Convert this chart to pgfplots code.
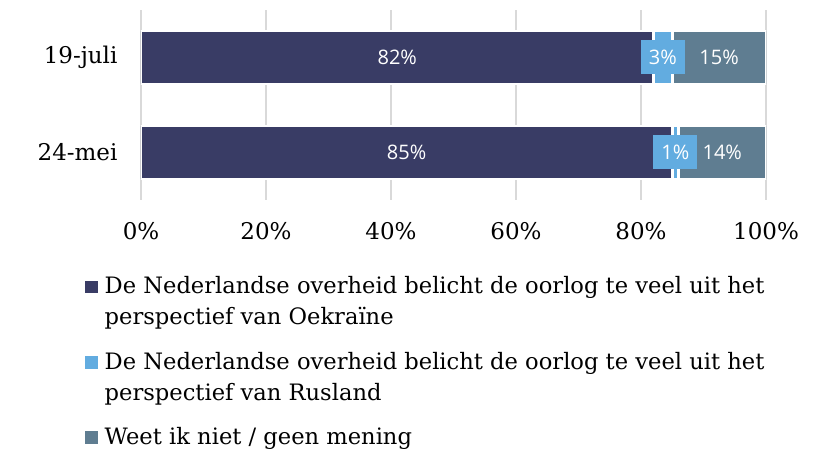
\documentclass[border=0pt]{standalone}
\usepackage{pgfplots}
\pgfplotsset{compat=1.18}
\usepackage{fontspec}
\setmainfont{DejaVu Serif}
\newfontfamily\barfont{Open Sans}

\definecolor{navy}{HTML}{393C65}
\definecolor{lightblue}{HTML}{62ACE0}
\definecolor{slate}{HTML}{5F7D91}
\definecolor{gridgray}{HTML}{D9D9D9}

\pgfplotsset{
  frame/.style={
    scale only axis, width=625pt, height=190pt,
    at={(0,0)}, anchor=south west,
    xmin=0, xmax=100, ymin=-0.5, ymax=1.5,
  },
  barlabel/.style={
    only marks, mark=none,
    point meta=explicit,
    nodes near coords={\pgfmathprintnumber[assume math mode=true]{\pgfplotspointmeta}\%},
    nodes near coords align=center,
    every node near coord/.append style={anchor=center, text=white,
      font=\barfont\fontsize{20}{22}\selectfont},
  },
  sq/.style={legend image code/.code={%
    \fill[#1] (0pt,-20.1pt) rectangle (10pt,-10.1pt);}},
}

\begin{document}
\begin{tikzpicture}
\path[use as bounding box] (-141pt,-249pt) rectangle (684pt,200pt);
\begin{axis}[
  frame,
  xbar stacked,
  bar width=0.553,
  axis line style={draw=none},
  major tick length=0pt,
  xtick={0,20,...,100},
  xticklabel={\pgfmathprintnumber[assume math mode=true]{\tick}\%},
  ytick={0,1}, yticklabels={24-mei,19-juli},
  tick label style={font=\fontsize{23}{27}\selectfont},
  xticklabel style={yshift=-19pt},
  yticklabel style={xshift=-20pt},
  xmajorgrids,
  major grid style={draw=gridgray, line width=1.5pt},
  legend cell align=left,
  legend style={at={(0,0)}, anchor=north west, xshift=-56pt, yshift=-71.6pt,
    draw=none, fill=none, inner sep=0pt, row sep=21pt, column sep=7pt,
    font=\fontsize{22.6}{31}\selectfont,
    nodes={inner sep=0pt},
    cells={align=left, anchor=north west}},
]
\addplot[fill=navy, draw=white, line width=2.5pt, sq=navy]
  coordinates {(85,0) (82,1)};
\addplot[fill=lightblue, draw=white, line width=2.5pt, sq=lightblue]
  coordinates {(1,0) (3,1)};
\addplot[fill=slate, draw=white, line width=2.5pt, sq=slate]
  coordinates {(14,0) (15,1)};
\addlegendentry{\strut De Nederlandse overheid belicht de oorlog te veel uit het\\perspectief van Oekraïne\strut}
\addlegendentry{\strut De Nederlandse overheid belicht de oorlog te veel uit het\\perspectief van Rusland\strut}
\addlegendentry{\strut Weet ik niet / geen mening\strut}
\end{axis}
% labels in the middle of each segment
\begin{axis}[frame, hide axis]
\addplot[barlabel] coordinates {(42.5,0) [85] (41,1) [82]};
\addplot[barlabel] coordinates {(93,0) [14] (92.5,1) [15]};
\addplot[barlabel, every node near coord/.append style={fill=lightblue,
    inner xsep=8pt, minimum height=34pt}]
  coordinates {(85.5,0) [1] (83.5,1) [3]};
\end{axis}
\end{tikzpicture}
\end{document}
